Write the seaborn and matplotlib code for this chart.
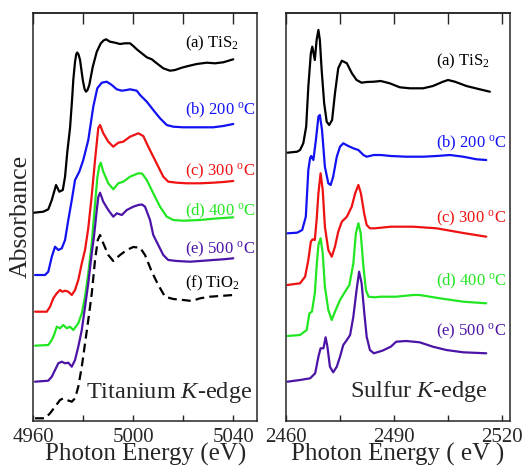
import matplotlib
matplotlib.use("Agg")
import matplotlib.pyplot as plt
import pandas as pd
import seaborn as sns

# ---------------- Titanium K-edge (arbitrary absorbance units, stacked) ----------------
ti_a_x = [4960.3, 4964.0, 4966.0, 4967.4, 4969.1, 4970.4, 4971.8, 4972.7, 4973.6, 4974.7, 4975.5,
          4976.0, 4976.7, 4977.2, 4977.6, 4978.1, 4978.7, 4979.8, 4980.5, 4981.1, 4981.7, 4982.4,
          4983.8, 4985.4, 4987.0, 4988.1, 4989.1, 4990.7, 4992.7, 4994.7, 4996.7, 4998.7, 5000.0,
          5001.4, 5003.4, 5005.4, 5007.4, 5009.4, 5012.0, 5014.7, 5016.7, 5019.4, 5022.0, 5025.4,
          5029.4, 5032.7, 5036.0, 5040.0]
ti_a_y = [208.3, 209.3, 211.7, 221, 236, 229.3, 231, 244.3, 269, 293, 321,
          341, 359.3, 367, 368.5, 366.5, 361, 341, 332, 329.3, 331, 336,
          354.3, 369.3, 377.7, 380.5, 381.7, 379.3, 378.3, 377, 377.7, 377.7, 375,
          371.7, 367.7, 363.7, 361.7, 357.7, 352.7, 350.3, 351, 353.3, 355, 357,
          358.3, 357.7, 358.7, 361.7]

ti_b_x = [4960.7, 4964.7, 4966.0, 4967.4, 4968.7, 4970.0, 4971.4, 4972.7, 4974.0, 4975.4, 4976.7,
          4978.4, 4980.0, 4981.4, 4982.0, 4983.0, 4984.0, 4985.6, 4987.4, 4989.4, 4991.4, 4993.4,
          4995.4, 4997.4, 4998.7, 5001.4, 5002.7, 5005.4, 5008.0, 5010.7, 5013.4, 5016.0, 5020.0,
          5026.7, 5032.0, 5036.0, 5040.0]
ti_b_y = [146, 146, 149.3, 164.3, 174.3, 171, 172.7, 181, 201, 221, 241,
          249.3, 261, 275, 281, 297.7, 314.3, 332.7, 338.3, 339.3, 336, 331.7,
          330.3, 331, 331.7, 330.3, 326, 319.3, 311, 302.7, 296, 294.3, 293.7,
          293.7, 293.7, 295, 297]

ti_c_x = [4960.7, 4965.4, 4966.7, 4968.0, 4969.4, 4970.7, 4971.6, 4972.7, 4974.0, 4975.4, 4976.7,
          4978.0, 4979.4, 4980.7, 4982.0, 4983.4, 4984.7, 4986.0, 4986.7, 4988.0, 4990.0, 4992.0,
          4994.0, 4996.0, 4998.7, 5002.0, 5004.0, 5006.0, 5008.0, 5010.0, 5012.0, 5014.0, 5017.4,
          5021.4, 5026.7, 5032.0, 5036.0, 5040.0]
ti_c_y = [109.3, 109.3, 114.3, 122.7, 127.7, 131, 129.3, 130.3, 129.3, 126, 131,
          141, 157.7, 171, 193, 226, 261, 293, 296, 287.7, 279.3, 274.3,
          278.3, 279.3, 284.3, 287.7, 285, 274.3, 264.3, 254.3, 244.3, 239.3, 238.3,
          237.7, 237.7, 238.3, 239, 240]

ti_d_x = [4960.7, 4966.0, 4967.4, 4968.3, 4969.4, 4970.7, 4972.0, 4973.4, 4974.7, 4976.0, 4978.0,
          4979.4, 4980.7, 4982.0, 4983.4, 4984.5, 4985.6, 4986.4, 4987.0, 4988.0, 4990.0, 4992.0,
          4994.0, 4996.0, 4998.7, 5002.0, 5003.5, 5005.4, 5008.0, 5010.7, 5013.4, 5016.0, 5020.0,
          5026.7, 5032.0, 5040.0]
ti_d_y = [75.3, 76, 81, 86, 94.3, 92.7, 96, 92.7, 94.3, 91, 97.7,
          107.7, 124.3, 147.7, 178, 211, 243, 255, 258.3, 249.3, 237.7, 231.7,
          237.7, 239.3, 244.3, 247.7, 247.5, 241, 227.7, 214.3, 204.3, 201, 200.3,
          201, 202.3, 203.7]

ti_e_x = [4960.7, 4966.0, 4967.4, 4968.7, 4970.0, 4971.4, 4972.7, 4974.0, 4975.4, 4976.7, 4978.0,
          4979.4, 4980.7, 4982.0, 4983.4, 4984.3, 4985.4, 4986.0, 4986.7, 4988.0, 4990.0, 4992.0,
          4993.4, 4995.4, 4997.4, 5000.0, 5002.0, 5003.5, 5004.7, 5006.7, 5008.0, 5010.0, 5012.0,
          5014.0, 5017.4, 5022.7, 5026.7, 5032.0, 5036.0, 5040.0]
ti_e_y = [39.3, 40.3, 44.3, 51, 57.7, 59.3, 57.7, 58.3, 54.3, 61, 74.3,
          91, 114.3, 137.7, 168, 185, 211, 224, 228.3, 219.3, 211, 204.3,
          207.7, 206, 211, 214.3, 216, 216.5, 214.3, 201, 186, 176, 166,
          161, 160, 159.3, 160, 161, 161.7, 162.7]

ti_f_x = [4960.7, 4964.7, 4966.7, 4968.7, 4970.7, 4972.0, 4973.4, 4975.4, 4976.7, 4978.0, 4979.4,
          4980.7, 4982.0, 4983.4, 4984.7, 4985.8, 4986.7, 4988.0, 4990.0, 4992.0, 4994.7, 4997.4,
          5000.0, 5002.7, 5004.7, 5007.4, 5010.0, 5012.7, 5016.0, 5020.0, 5023.4, 5026.7, 5030.7,
          5034.7, 5040.0]
ti_f_y = [2.7, 2.7, 7.7, 14.3, 21, 22.7, 21, 19.3, 22.7, 34.3, 54.3,
          77.7, 101, 127.7, 161, 181, 186, 177.7, 166, 160, 166, 171,
          174, 173.3, 166, 149.3, 136, 124.3, 122, 121, 120, 122.7, 124.3,
          125, 126]

# ---------------- Sulfur K-edge ----------------
s_a_x = [2460.4, 2463.1, 2463.9, 2464.8, 2465.6, 2466.2, 2466.9, 2467.3, 2468.0, 2468.5, 2469.0,
         2469.4, 2469.9, 2470.6, 2471.3, 2472.0, 2472.8, 2473.6, 2474.5, 2475.5, 2476.9, 2478.3,
         2479.6, 2481.0, 2482.4, 2484.4, 2486.3, 2488.8, 2491.6, 2494.4, 2498.1, 2500.8, 2503.6,
         2505.0, 2506.9, 2510.1, 2513.8, 2516.6]
s_a_y = [268.3, 269.3, 271, 277.7, 294.3, 334.3, 367.7, 374.3, 361, 381, 391,
         381, 351, 317.7, 299.3, 296, 301, 327.7, 352.7, 360.3, 357.7, 347.7,
         341, 338.3, 339, 339.3, 340, 337.7, 333.7, 332.7, 332.7, 335, 339.3,
         341, 339.3, 335, 331.7, 329.3]

s_b_x = [2460.4, 2463.1, 2464.5, 2465.5, 2465.75, 2466.2, 2466.7, 2467.0, 2467.6, 2468.3, 2469.0,
         2469.4, 2470.0, 2470.8, 2471.75, 2472.4, 2473.1, 2474.1, 2475.0, 2475.9, 2477.3, 2478.7,
         2480.1, 2481.5, 2482.4, 2484.4, 2486.3, 2489.1, 2493.4, 2498.1, 2501.8, 2505.5, 2509.2,
         2512.9, 2515.6]
s_b_y = [187.7, 188.3, 191, 204.3, 221, 251, 263, 265, 261, 281, 304.3,
         306, 291, 254.3, 237.7, 236, 244.3, 264.3, 274.3, 277.7, 275, 272.7,
         271, 266, 264.3, 266, 266, 265, 264.3, 264.3, 265, 266, 264.3,
         261.7, 261]

s_c_x = [2460.4, 2463.9, 2465.3, 2466.2, 2466.9, 2467.4, 2468.0, 2468.5, 2469.0, 2469.6, 2470.2,
         2470.8, 2471.75, 2472.7, 2473.6, 2474.5, 2475.5, 2476.9, 2478.25, 2479.2, 2480.1, 2480.8,
         2481.7, 2482.4, 2483.3, 2484.7, 2489.1, 2495.3, 2501.8, 2509.2, 2515.6]
s_c_y = [136, 137.7, 144.3, 161, 179.3, 181.7, 181, 201, 227.7, 247.7, 231,
         194.3, 171, 164.3, 174.3, 189.3, 199.3, 204.3, 214.3, 227.7, 236, 227.7,
         207.7, 196, 192.7, 192.7, 194.3, 194.3, 192.7, 188, 184.3]

s_d_x = [2460.4, 2463.9, 2465.75, 2466.5, 2467.2, 2468.0, 2468.5, 2469.0, 2469.6, 2470.2, 2470.8,
         2471.75, 2472.7, 2473.6, 2475.0, 2476.4, 2477.6, 2478.7, 2479.4, 2480.1, 2480.75, 2481.5,
         2482.2, 2482.9, 2484.7, 2486.3, 2490.6, 2495.3, 2497.1, 2502.7, 2509.2, 2515.6]
s_d_y = [85, 86, 91, 107.7, 109.3, 127.7, 154.3, 176, 182.7, 167.7, 134.3,
         111, 101, 109.3, 121, 129.3, 136, 157.7, 187.7, 197.7, 187.7, 154.3,
         131, 124.3, 123.7, 124.3, 124.3, 126, 126, 122.7, 119.3, 117.7]

s_e_x = [2460.4, 2463.9, 2466.7, 2468.1, 2469.0, 2469.6, 2470.4, 2471.0, 2471.5, 2472.2, 2473.1,
         2474.1, 2475.0, 2475.9, 2476.9, 2477.8, 2478.7, 2479.6, 2480.3, 2481.0, 2481.75, 2482.4,
         2483.3, 2484.4, 2486.75, 2489.1, 2490.6, 2493.4, 2497.1, 2500.8, 2504.5, 2509.2, 2515.6]
s_e_y = [39.3, 41, 42.7, 47.7, 64.3, 72.7, 72.7, 83.7, 74.3, 54.3, 48.7,
         54.3, 64.3, 76, 81, 86, 104.3, 131, 149.3, 137.7, 107.7, 84.3,
         71, 67.7, 70.3, 74.3, 79.3, 80, 78.7, 74.3, 71, 68.7, 67.7]

ti_labels = ["(a) TiS$_2$", "(b) 200 $^{\\mathrm{o}}$C", "(c) 300 $^{\\mathrm{o}}$C",
             "(d) 400 $^{\\mathrm{o}}$C", "(e) 500 $^{\\mathrm{o}}$C", "(f) TiO$_2$"]
s_labels = ["(a) TiS$_2$", "(b) 200 $^{\\mathrm{o}}$C", "(c) 300 $^{\\mathrm{o}}$C",
            "(d) 400 $^{\\mathrm{o}}$C", "(e) 500 $^{\\mathrm{o}}$C"]
colors = ["#000000", "#1212f2", "#ee1212", "#22e622", "#4c14a6", "#000000"]

ti_ticks = [4960, 5000, 5040]
ti_minor = [4980, 5020]
s_ticks = [2460, 2490, 2520]
s_minor = [2475, 2505]

# ---------------- style ----------------
sns.set_style("ticks")
plt.rcParams["font.family"] = ["Liberation Serif", "DejaVu Serif"]
plt.rcParams["mathtext.fontset"] = "custom"
plt.rcParams["mathtext.rm"] = "Liberation Serif"
plt.rcParams["mathtext.it"] = "Liberation Serif:italic"
plt.rcParams["axes.linewidth"] = 1.1

fig = plt.figure(figsize=(5.26, 4.70), dpi=100)
W, H = 526.0, 470.0
bot, top = 420.7, 13.0
ax1 = fig.add_axes([33.3 / W, (H - bot) / H, (257 - 33.3) / W, (bot - top) / H])
ax2 = fig.add_axes([286 / W, (H - bot) / H, (510 - 286) / W, (bot - top) / H])

ti_series = [(ti_a_x, ti_a_y), (ti_b_x, ti_b_y), (ti_c_x, ti_c_y),
             (ti_d_x, ti_d_y), (ti_e_x, ti_e_y), (ti_f_x, ti_f_y)]
s_series = [(s_a_x, s_a_y), (s_b_x, s_b_y), (s_c_x, s_c_y), (s_d_x, s_d_y), (s_e_x, s_e_y)]

for i, (xs, ys) in enumerate(ti_series):
    df = pd.DataFrame({"E": xs, "A": ys})
    sns.lineplot(data=df, x="E", y="A", ax=ax1, color=colors[i], lw=1.6,
                 estimator=None, sort=False, legend=False,
                 solid_joinstyle="round", dash_joinstyle="round")
    if i == 5:
        ax1.lines[-1].set_dashes((4, 2.3))

for i, (xs, ys) in enumerate(s_series):
    df = pd.DataFrame({"E": xs, "A": ys})
    sns.lineplot(data=df, x="E", y="A", ax=ax2, color=colors[i], lw=1.6,
                 estimator=None, sort=False, legend=False, solid_joinstyle="round")

# labels of the curves
ti_lab_y = [373.7, 307, 245.3, 205.3, 168, 133.3]
for lab, yy, c in zip(ti_labels, ti_lab_y, colors):
    ax1.text(5020.7, yy, lab, color=c, fontsize=12, ha="left", va="baseline")
s_lab_y = [355.3, 273.7, 198.7, 135.3, 85.3]
for lab, yy, c in zip(s_labels, s_lab_y, colors):
    ax2.text(2501.7, yy, lab, color=c, fontsize=12, ha="left", va="baseline")

ax1.text(5047.5, 22.7, "Titanium $K$-edge", fontsize=17.5, ha="right", va="baseline")
ax2.text(2516.1, 24.3, "Sulfur $K$-edge", fontsize=17.5, ha="right", va="baseline")

for ax, lim, maj, mnr, xl in [(ax1, (4960, 5049.5), ti_ticks, ti_minor, "Photon Energy (eV)"),
                               (ax2, (2460, 2522.2), s_ticks, s_minor, "Photon Energy ( eV )")]:
    ax.set_xlim(*lim)
    ax.set_ylim(0.3, 408)
    ax.set_xticks(maj)
    ax.set_xticks(mnr, minor=True)
    ax.set_xticklabels([str(t) for t in maj])
    ax.set_yticks([])
    ax.tick_params(axis="x", which="both", direction="in", length=4, width=1.0,
                   labelsize=15, pad=5, top=False)
    sec = ax.secondary_xaxis("top")
    sec.set_xticks(maj + mnr)
    sec.tick_params(axis="x", direction="in", length=8, width=1.0, labeltop=False)
    sec.set_xticklabels([])
    ax.set_xlabel(xl, fontsize=18, labelpad=-2.5)
    ax.set_ylabel("")
    for s in ax.spines.values():
        s.set_linewidth(1.1)

ax1.set_ylabel("Absorbance", fontsize=18.5, labelpad=1)

fig.savefig("out.png", dpi=100)
